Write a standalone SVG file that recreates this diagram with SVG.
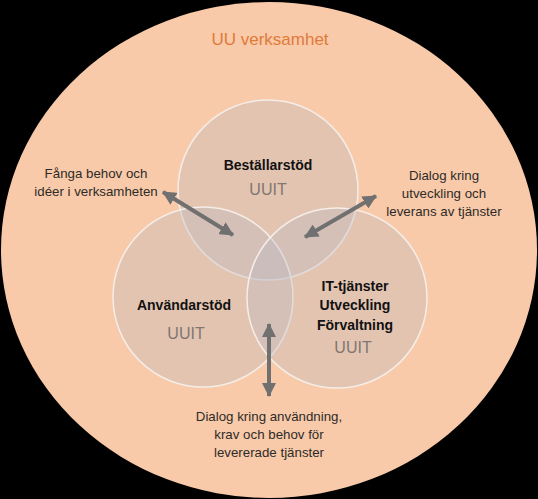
<svg xmlns="http://www.w3.org/2000/svg" width="538" height="499" viewBox="0 0 538 499">
<style>
.venn{fill:#b8b8c4;fill-opacity:0.32;stroke:#f4ede8;stroke-width:1.5}
.title{font-family:"Liberation Sans",Arial,sans-serif;font-size:14px;font-weight:bold;fill:#111;text-anchor:middle}
.uuit{font-family:"Liberation Sans",Arial,sans-serif;font-size:16px;fill:#807672;text-anchor:middle}
.lbl{font-family:"Liberation Sans",Arial,sans-serif;font-size:13.3px;fill:#2e2a28;text-anchor:middle}
.arr{stroke:#707070;stroke-width:4;fill:none;marker-start:url(#head);marker-end:url(#head)}
</style>
<defs>
<marker id="head" markerUnits="userSpaceOnUse" markerWidth="14" markerHeight="14" viewBox="0 0 14 14" refX="13" refY="7" orient="auto-start-reverse">
<path d="M0,0 L14,7 L0,14 Z" fill="#707070"/>
</marker>
</defs>
<rect width="538" height="499" fill="#000"/>
<g id="outer">
<ellipse cx="269" cy="250" rx="268" ry="248" fill="#f8caa9"/>
<text x="270" y="45" font-family="Liberation Sans, Arial, sans-serif" font-size="17" fill="#e07a3a" text-anchor="middle">UU verksamhet</text>
</g>
<g id="bestallarstod">
<circle class="venn" cx="268" cy="190" r="90"/>
<text class="title" x="268" y="170">Beställarstöd</text>
<text class="uuit" x="268" y="195">UUIT</text>
</g>
<g id="anvandarstod">
<circle class="venn" cx="203" cy="297" r="90"/>
<text class="title" x="184" y="310">Användarstöd</text>
<text class="uuit" x="186" y="339">UUIT</text>
</g>
<g id="ittjanster">
<circle class="venn" cx="337" cy="298" r="90"/>
<text class="title" x="355" y="291">IT-tjänster</text>
<text class="title" x="355" y="310">Utveckling</text>
<text class="title" x="355" y="330">Förvaltning</text>
<text class="uuit" x="353" y="353">UUIT</text>
</g>
<g id="label-left">
<text class="lbl" x="96" y="178">Fånga behov och</text>
<text class="lbl" x="96" y="196">idéer i verksamheten</text>
</g>
<g id="label-right">
<text class="lbl" x="444" y="180">Dialog kring</text>
<text class="lbl" x="444" y="198">utveckling och</text>
<text class="lbl" x="444" y="216">leverans av tjänster</text>
</g>
<g id="label-bottom">
<text class="lbl" x="269" y="421">Dialog kring användning,</text>
<text class="lbl" x="269" y="439">krav och behov för</text>
<text class="lbl" x="269" y="457">levererade tjänster</text>
</g>
<g id="connectors">
<line class="arr" x1="163" y1="192" x2="233" y2="235"/>
<line class="arr" x1="376" y1="196" x2="305" y2="237"/>
<line class="arr" x1="269" y1="324" x2="269" y2="396"/>
</g>
</svg>
